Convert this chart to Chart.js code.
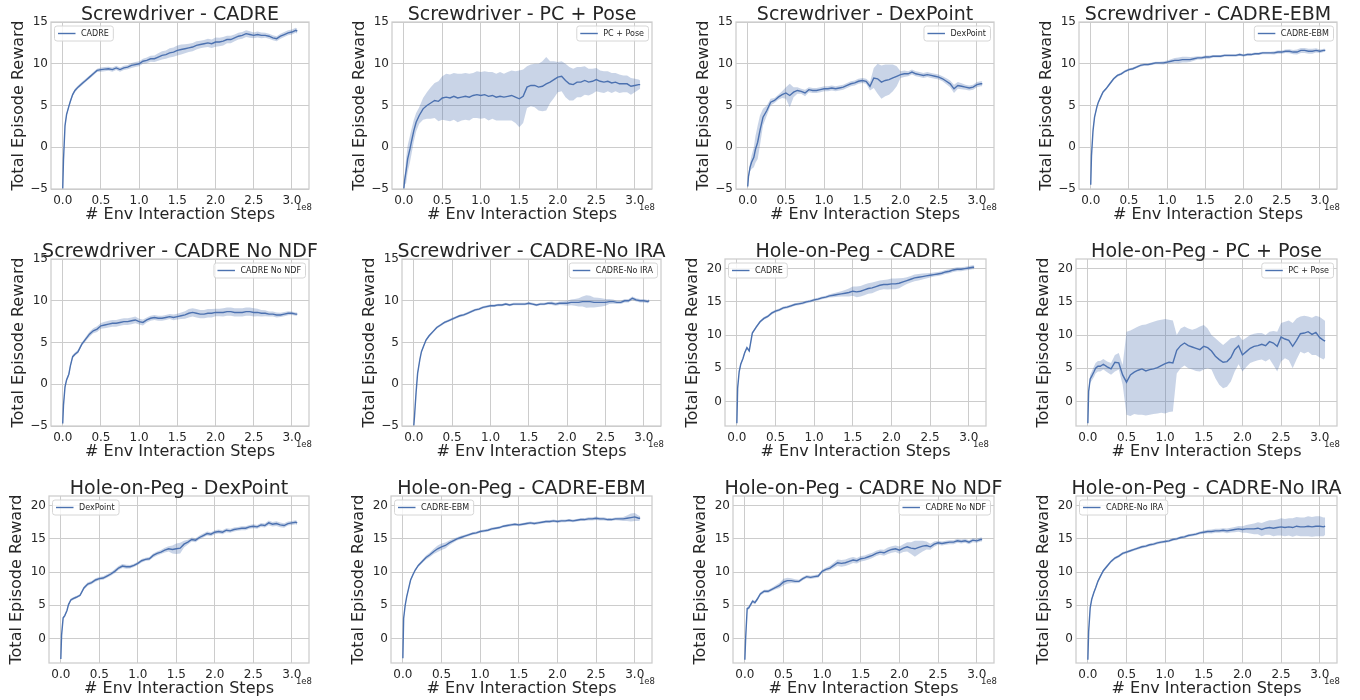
<!DOCTYPE html>
<html>
<head>
<meta charset="utf-8">
<script src="https://cdn.jsdelivr.net/npm/chart.js@4.4.1/dist/chart.umd.min.js"></script>
<style>
body { margin: 0; background: #fff; }
#grid { position: relative; width: 1360px; height: 700px; background: #fff; }
.panel { position: absolute; }
</style>
</head>
<body>
<div id="grid"></div>
<script>
// env interaction steps, in units of 1e8
var steps = [0, 0.01, 0.03, 0.05, 0.08, 0.1, 0.13, 0.16, 0.2, 0.25,
    0.3, 0.35, 0.4, 0.45, 0.5, 0.55, 0.6, 0.65, 0.7, 0.75,
    0.8, 0.85, 0.9, 0.95, 1.0, 1.05, 1.1, 1.15, 1.2, 1.25,
    1.3, 1.35, 1.4, 1.45, 1.5, 1.55, 1.6, 1.65, 1.7, 1.75,
    1.8, 1.85, 1.9, 1.95, 2.0, 2.05, 2.1, 2.15, 2.2, 2.25,
    2.3, 2.35, 2.4, 2.45, 2.5, 2.55, 2.6, 2.65, 2.7, 2.75,
    2.8, 2.85, 2.9, 2.95, 3.0, 3.05, 3.07];

var stepTicks = [0, 0.5, 1, 1.5, 2, 2.5, 3];
var screwTicks = [-5, 0, 5, 10, 15];
var pegTicks = [0, 5, 10, 15, 20];
var stepRange = [-0.1535, 3.2235];
var screwRange = [-5, 15];
var pegRange = [-3.7, 21.45];

// Screwdriver
var sdCadre = [-5.0, -1.5, 2.6, 3.9, 4.9, 5.5, 6.3, 6.8, 7.2, 7.6,
    8.0, 8.4, 8.8, 9.2, 9.3, 9.35, 9.4, 9.3, 9.5, 9.3,
    9.5, 9.6, 9.8, 9.9, 10.0, 10.3, 10.4, 10.6, 10.6, 10.8,
    11.0, 11.1, 11.3, 11.4, 11.6, 11.7, 11.8, 11.9, 12.0, 12.2,
    12.3, 12.4, 12.5, 12.4, 12.6, 12.6, 12.7, 12.9, 12.9, 13.1,
    13.3, 13.4, 13.6, 13.5, 13.4, 13.5, 13.4, 13.4, 13.3, 13.1,
    13.0, 13.3, 13.5, 13.7, 13.8, 14.0, 13.9];
var sdCadreSd = [0, 0.2, 0.2, 0.2, 0.2, 0.2, 0.2, 0.2, 0.2, 0.2,
    0.2, 0.2, 0.2, 0.2, 0.25, 0.25, 0.25, 0.25, 0.25, 0.25,
    0.25, 0.25, 0.3, 0.3, 0.3, 0.3, 0.35, 0.35, 0.4, 0.45,
    0.5, 0.5, 0.55, 0.55, 0.6, 0.6, 0.55, 0.5, 0.5, 0.5,
    0.45, 0.45, 0.5, 0.5, 0.55, 0.5, 0.5, 0.45, 0.45, 0.4,
    0.4, 0.4, 0.4, 0.4, 0.35, 0.35, 0.35, 0.3, 0.3, 0.3,
    0.3, 0.3, 0.3, 0.3, 0.3, 0.3, 0.3];

var sdPcPose = [-5.0, -4.0, -2.8, -1.4, -0.2, 0.7, 2.0, 3.0, 3.8, 4.6,
    5.0, 5.3, 5.6, 5.5, 5.9, 6.0, 5.9, 6.1, 5.9, 6.0,
    6.1, 6.0, 6.2, 6.3, 6.2, 6.3, 6.1, 6.2, 6.0, 6.1,
    6.0, 6.1, 6.2, 6.0, 5.8, 6.1, 7.2, 7.4, 7.4, 7.2,
    7.3, 7.6, 7.8, 8.1, 8.4, 8.5, 8.0, 7.6, 7.5, 7.8,
    7.8, 8.0, 7.8, 7.9, 8.1, 7.9, 7.8, 7.9, 7.7, 7.8,
    7.6, 7.6, 7.6, 7.3, 7.4, 7.5, 7.5];
var sdPcPoseSd = [0, 0.5, 1.5, 1.6, 1.6, 1.5, 1.3, 1.1, 1.0, 1.3,
    1.6, 1.9, 2.1, 2.4, 2.6, 2.8, 2.8, 2.8, 2.9, 2.8,
    2.8, 2.8, 2.7, 2.8, 2.8, 2.8, 2.9, 2.8, 2.8, 2.9,
    2.8, 2.9, 3.0, 3.1, 3.4, 3.2, 2.5, 2.5, 2.6, 2.8,
    3.0, 3.2, 2.5, 2.2, 1.8, 1.8, 2.0, 2.0, 1.9, 1.8,
    1.8, 1.7, 1.6, 1.5, 1.4, 1.3, 1.3, 1.2, 1.2, 1.1,
    1.1, 1.0, 1.0, 1.0, 0.8, 0.6, 0.5];

var sdDexPoint = [-4.7, -3.5, -2.4, -1.8, -1.2, -0.3, 0.6, 2.0, 3.6, 4.4,
    5.4, 5.6, 6.0, 6.3, 6.5, 6.2, 6.6, 6.8, 6.7, 6.5,
    6.9, 6.8, 6.8, 6.9, 7.0, 7.0, 7.1, 7.0, 7.1, 7.2,
    7.4, 7.6, 7.7, 7.9, 8.0, 7.9, 7.3, 8.3, 8.2, 7.8,
    8.0, 8.1, 8.3, 8.5, 8.7, 8.8, 8.8, 9.0, 8.8, 8.7,
    8.6, 8.7, 8.6, 8.5, 8.4, 8.2, 7.9, 7.6, 7.0, 7.4,
    7.3, 7.2, 7.1, 7.2, 7.5, 7.6, 7.6];
var sdDexPointSd = [0, 0.3, 0.5, 0.8, 1.2, 1.6, 2.0, 1.8, 1.0, 0.6,
    0.4, 0.3, 0.3, 0.4, 0.7, 1.4, 0.6, 0.4, 0.3, 0.4,
    0.3, 0.3, 0.3, 0.3, 0.3, 0.3, 0.3, 0.3, 0.3, 0.3,
    0.3, 0.3, 0.3, 0.3, 0.3, 0.3, 0.5, 1.2, 1.8, 2.0,
    1.9, 1.8, 1.6, 1.2, 0.4, 0.4, 0.3, 0.3, 0.3, 0.3,
    0.3, 0.3, 0.3, 0.3, 0.3, 0.3, 0.35, 0.4, 0.5, 0.4,
    0.35, 0.3, 0.3, 0.3, 0.3, 0.3, 0.3];

var sdEbm = [-4.5, -1.0, 2.0, 3.6, 4.8, 5.4, 6.0, 6.6, 7.0, 7.6,
    8.2, 8.6, 8.8, 9.1, 9.3, 9.4, 9.6, 9.8, 9.9, 9.9,
    10.0, 10.1, 10.1, 10.1, 10.2, 10.3, 10.4, 10.4, 10.5, 10.5,
    10.5, 10.6, 10.7, 10.7, 10.8, 10.8, 10.9, 10.9, 10.9, 11.0,
    11.0, 11.0, 11.0, 11.1, 11.0, 11.1, 11.1, 11.2, 11.2, 11.3,
    11.3, 11.3, 11.3, 11.4, 11.4, 11.5, 11.5, 11.4, 11.4, 11.6,
    11.6, 11.5, 11.5, 11.6, 11.5, 11.6, 11.6];
var sdEbmSd = [0, 0.2, 0.2, 0.2, 0.2, 0.15, 0.15, 0.15, 0.15, 0.15,
    0.15, 0.15, 0.15, 0.15, 0.15, 0.15, 0.15, 0.15, 0.15, 0.15,
    0.15, 0.15, 0.15, 0.2, 0.2, 0.25, 0.3, 0.35, 0.35, 0.35,
    0.3, 0.25, 0.2, 0.2, 0.2, 0.2, 0.15, 0.15, 0.15, 0.15,
    0.15, 0.15, 0.15, 0.15, 0.15, 0.15, 0.15, 0.15, 0.15, 0.15,
    0.15, 0.15, 0.2, 0.2, 0.2, 0.2, 0.25, 0.25, 0.3, 0.3,
    0.3, 0.3, 0.3, 0.25, 0.2, 0.2, 0.2];

var sdNoNdf = [-4.7, -2.5, -0.3, 0.5, 1.2, 2.2, 3.3, 3.6, 3.9, 4.8,
    5.4, 6.0, 6.4, 6.6, 7.0, 7.1, 7.2, 7.3, 7.3, 7.4,
    7.5, 7.5, 7.6, 7.7, 7.5, 7.4, 7.7, 7.9, 8.0, 7.9,
    7.9, 8.0, 8.1, 8.0, 8.1, 8.2, 8.3, 8.5, 8.6, 8.5,
    8.4, 8.4, 8.5, 8.5, 8.6, 8.6, 8.6, 8.7, 8.7, 8.6,
    8.6, 8.6, 8.7, 8.7, 8.6, 8.6, 8.5, 8.5, 8.4, 8.4,
    8.3, 8.3, 8.4, 8.5, 8.5, 8.4, 8.4];
var sdNoNdfSd = [0, 0.2, 0.2, 0.2, 0.2, 0.2, 0.2, 0.2, 0.2, 0.2,
    0.25, 0.3, 0.3, 0.35, 0.35, 0.4, 0.4, 0.4, 0.4, 0.4,
    0.4, 0.4, 0.4, 0.4, 0.35, 0.35, 0.3, 0.3, 0.3, 0.3,
    0.3, 0.3, 0.3, 0.35, 0.35, 0.4, 0.45, 0.5, 0.5, 0.5,
    0.5, 0.5, 0.5, 0.5, 0.45, 0.45, 0.5, 0.5, 0.5, 0.5,
    0.5, 0.5, 0.5, 0.5, 0.5, 0.45, 0.4, 0.35, 0.3, 0.3,
    0.3, 0.25, 0.25, 0.25, 0.2, 0.2, 0.2];

var sdNoIra = [-5.0, -3.8, -1.0, 1.3, 3.0, 3.9, 4.6, 5.3, 5.8, 6.3,
    6.8, 7.1, 7.4, 7.6, 7.8, 8.0, 8.2, 8.3, 8.5, 8.7,
    8.9, 9.0, 9.2, 9.3, 9.4, 9.4, 9.5, 9.5, 9.6, 9.5,
    9.6, 9.6, 9.6, 9.6, 9.7, 9.6, 9.5, 9.6, 9.6, 9.7,
    9.7, 9.6, 9.7, 9.7, 9.7, 9.8, 9.8, 9.8, 9.9, 9.9,
    9.9, 9.8, 9.8, 9.8, 9.8, 9.9, 9.9, 9.8, 9.8, 10.0,
    10.0, 10.3, 10.1, 10.0, 10.0, 9.9, 10.0];
var sdNoIraSd = [0, 0.2, 0.2, 0.2, 0.15, 0.15, 0.15, 0.15, 0.15, 0.15,
    0.15, 0.15, 0.15, 0.15, 0.15, 0.15, 0.15, 0.15, 0.15, 0.15,
    0.15, 0.15, 0.15, 0.15, 0.15, 0.15, 0.15, 0.15, 0.15, 0.15,
    0.15, 0.15, 0.15, 0.15, 0.15, 0.15, 0.15, 0.15, 0.15, 0.15,
    0.2, 0.2, 0.2, 0.25, 0.3, 0.35, 0.4, 0.5, 0.6, 0.75,
    0.7, 0.6, 0.55, 0.5, 0.4, 0.3, 0.25, 0.2, 0.2, 0.2,
    0.2, 0.2, 0.2, 0.2, 0.2, 0.2, 0.2];

// Hole-on-Peg
var hpCadre = [-3.3, 2.0, 4.5, 5.6, 6.5, 7.3, 8.1, 7.6, 10.3, 11.2,
    12.0, 12.5, 12.8, 13.3, 13.6, 13.8, 14.1, 14.2, 14.4, 14.6,
    14.7, 14.8, 15.0, 15.1, 15.3, 15.4, 15.6, 15.7, 15.9, 16.0,
    16.1, 16.2, 16.3, 16.4, 16.6, 16.5, 16.6, 16.8, 17.0, 17.1,
    17.3, 17.5, 17.6, 17.6, 17.7, 17.7, 17.8, 18.0, 18.2, 18.4,
    18.6, 18.7, 18.8, 18.9, 19.0, 19.1, 19.2, 19.3, 19.5, 19.6,
    19.8, 19.9, 19.9, 20.0, 20.1, 20.2, 20.2];
var hpCadreSd = [0, 0.2, 0.2, 0.2, 0.2, 0.2, 0.2, 0.2, 0.2, 0.2,
    0.2, 0.2, 0.2, 0.2, 0.2, 0.2, 0.2, 0.2, 0.2, 0.2,
    0.2, 0.2, 0.2, 0.2, 0.2, 0.2, 0.2, 0.2, 0.25, 0.3,
    0.35, 0.4, 0.5, 0.6, 0.7, 0.8, 0.8, 0.8, 0.8, 0.8,
    0.75, 0.7, 0.7, 0.75, 0.8, 0.8, 0.75, 0.6, 0.5, 0.5,
    0.5, 0.5, 0.45, 0.4, 0.35, 0.3, 0.3, 0.3, 0.3, 0.3,
    0.3, 0.3, 0.3, 0.3, 0.3, 0.3, 0.3];

var hpPcPose = [-3.3, 1.5, 3.4, 3.8, 4.5, 5.0, 5.3, 5.3, 5.6, 5.2,
    4.9, 5.9, 5.8, 4.0, 2.9, 4.0, 4.4, 4.7, 4.9, 4.6,
    4.8, 4.9, 5.1, 5.4, 5.7, 5.9, 5.8, 7.7, 8.4, 8.8,
    8.4, 8.2, 8.0, 7.8, 8.3, 8.1, 7.6, 6.8, 6.3, 5.9,
    6.0, 6.6, 7.8, 8.4, 7.0, 7.5, 8.0, 8.3, 8.4, 8.6,
    8.4, 9.0, 8.8, 8.3, 9.7, 9.4, 9.2, 8.3, 9.2, 10.2,
    10.3, 10.5, 10.1, 10.4, 9.6, 9.2, 9.1];
var hpPcPoseLo = [-3.3, 1.2, 2.8, 3.1, 3.7, 4.2, 4.5, 4.5, 4.8, 4.4,
    4.0, 4.5, 4.8, 2.5, -2.0, -2.2, -1.9, -2.0, -2.0, -2.1,
    -2.0, -1.9, -1.8, -1.7, -1.8, -1.6, -1.5, 4.2, 5.0, 5.4,
    5.0, 4.8, 4.6, 4.5, 4.8, 5.0, 4.8, 3.5, 2.5, 2.0,
    2.2, 3.0, 4.5, 5.6, 4.5, 5.2, 5.8, 6.0, 6.2, 6.3,
    6.0, 6.4, 5.5, 4.5, 6.0, 6.5, 6.2, 5.0, 6.3, 7.5,
    7.2, 7.5, 7.0, 7.0, 6.6, 6.3, 6.6];
var hpPcPoseHi = [-3.3, 1.8, 4.0, 4.5, 5.3, 5.8, 6.1, 6.1, 6.4, 6.0,
    5.8, 7.0, 7.3, 5.5, 10.5, 10.7, 11.0, 11.3, 11.5, 11.6,
    11.8, 12.0, 12.2, 12.3, 12.4, 12.3, 12.2, 10.0, 11.0, 11.3,
    11.0, 10.8, 11.0, 11.3, 11.5, 11.0, 10.0, 9.5, 9.0, 8.5,
    9.0, 9.5, 9.6, 10.0, 9.2, 9.6, 10.0, 10.2, 10.3, 10.3,
    10.0, 10.5, 10.6, 10.5, 11.8, 12.0, 12.2, 11.8, 12.5, 12.8,
    12.9, 12.8, 12.6, 12.9, 12.7, 12.3, 12.1];

var hpDexPoint = [-3.1, 0.5, 3.1, 3.4, 4.2, 5.1, 5.8, 6.0, 6.2, 6.5,
    7.6, 8.2, 8.4, 8.8, 9.0, 9.1, 9.4, 9.7, 10.1, 10.6,
    10.9, 10.8, 10.8, 11.0, 11.3, 11.7, 11.9, 12.0, 12.5, 12.8,
    13.0, 13.3, 13.5, 13.4, 13.5, 13.6, 14.2, 14.5, 14.9, 14.8,
    15.2, 15.5, 15.8, 15.7, 16.0, 16.1, 16.0, 16.3, 16.2, 16.4,
    16.5, 16.6, 16.6, 16.8, 16.9, 16.8, 17.1, 17.0, 17.4, 17.2,
    17.3, 17.1, 17.0, 17.3, 17.4, 17.5, 17.4];
var hpDexPointSd = [0, 0.2, 0.2, 0.2, 0.2, 0.2, 0.2, 0.2, 0.2, 0.2,
    0.25, 0.25, 0.25, 0.25, 0.25, 0.25, 0.25, 0.25, 0.3, 0.3,
    0.3, 0.3, 0.25, 0.25, 0.25, 0.25, 0.25, 0.25, 0.3, 0.3,
    0.3, 0.35, 0.4, 0.6, 0.8, 0.8, 0.5, 0.35, 0.3, 0.3,
    0.3, 0.3, 0.3, 0.3, 0.3, 0.3, 0.3, 0.3, 0.3, 0.3,
    0.3, 0.3, 0.3, 0.3, 0.3, 0.3, 0.3, 0.3, 0.35, 0.35,
    0.35, 0.35, 0.35, 0.3, 0.3, 0.3, 0.3];

var hpEbm = [-3.0, 3.0, 5.0, 6.3, 7.8, 8.8, 9.6, 10.3, 11.0, 11.6,
    12.2, 12.6, 13.1, 13.5, 13.8, 14.0, 14.4, 14.7, 15.0, 15.2,
    15.4, 15.6, 15.8, 15.9, 16.1, 16.2, 16.3, 16.5, 16.6, 16.7,
    16.9, 17.0, 17.1, 17.2, 17.1, 17.2, 17.3, 17.4, 17.3, 17.4,
    17.5, 17.6, 17.6, 17.7, 17.6, 17.7, 17.7, 17.8, 17.7, 17.8,
    17.9, 17.9, 18.0, 18.0, 18.1, 18.0, 18.0, 17.9, 17.9, 18.0,
    18.0, 18.0, 18.1, 18.2, 18.3, 18.1, 18.1];
var hpEbmSd = [0, 0.2, 0.2, 0.2, 0.2, 0.2, 0.2, 0.2, 0.2, 0.25,
    0.3, 0.35, 0.4, 0.5, 0.5, 0.45, 0.35, 0.3, 0.25, 0.25,
    0.2, 0.2, 0.2, 0.2, 0.2, 0.2, 0.2, 0.2, 0.2, 0.2,
    0.2, 0.2, 0.2, 0.2, 0.2, 0.2, 0.2, 0.2, 0.2, 0.2,
    0.2, 0.2, 0.2, 0.2, 0.2, 0.2, 0.2, 0.2, 0.2, 0.2,
    0.2, 0.2, 0.25, 0.25, 0.25, 0.25, 0.25, 0.2, 0.2, 0.2,
    0.25, 0.3, 0.4, 0.6, 0.6, 0.4, 0.3];

var hpNoNdf = [-3.2, 0.0, 4.5, 4.6, 5.2, 5.6, 5.4, 5.9, 6.7, 7.1,
    7.1, 7.4, 7.7, 8.0, 8.5, 8.7, 8.7, 8.6, 8.6, 9.0,
    9.3, 9.2, 9.3, 9.4, 10.1, 10.4, 10.6, 11.0, 11.4, 11.3,
    11.4, 11.6, 11.8, 11.7, 12.0, 12.1, 12.3, 12.5, 12.8, 13.0,
    12.9, 13.2, 13.4, 13.5, 13.3, 13.6, 13.8, 13.6, 13.5, 13.7,
    13.9, 14.0, 13.8, 14.2, 14.4, 14.3, 14.4, 14.5, 14.5, 14.7,
    14.6, 14.7, 14.5, 14.8, 14.7, 14.9, 14.9];
var hpNoNdfSd = [0, 0.2, 0.25, 0.25, 0.25, 0.25, 0.25, 0.25, 0.25, 0.25,
    0.25, 0.25, 0.3, 0.4, 0.5, 0.45, 0.35, 0.3, 0.25, 0.25,
    0.25, 0.25, 0.25, 0.25, 0.25, 0.3, 0.35, 0.4, 0.5, 0.5,
    0.5, 0.5, 0.45, 0.4, 0.4, 0.4, 0.4, 0.4, 0.4, 0.4,
    0.45, 0.5, 0.5, 0.5, 0.55, 0.6, 0.7, 0.9, 1.2, 1.0,
    0.8, 0.6, 0.45, 0.4, 0.3, 0.3, 0.3, 0.3, 0.3, 0.3,
    0.3, 0.3, 0.3, 0.3, 0.3, 0.3, 0.3];

var hpNoIra = [-3.2, 1.0, 4.6, 5.9, 7.0, 7.6, 8.6, 9.3, 10.2, 10.9,
    11.6, 12.1, 12.4, 12.8, 13.0, 13.2, 13.4, 13.6, 13.8, 13.9,
    14.1, 14.2, 14.4, 14.5, 14.6, 14.7, 14.9, 15.0, 15.2, 15.3,
    15.5, 15.6, 15.7, 15.9, 16.0, 16.1, 16.1, 16.2, 16.2, 16.3,
    16.2, 16.3, 16.4, 16.5, 16.4, 16.5, 16.5, 16.5, 16.6, 16.4,
    16.6, 16.7, 16.6, 16.7, 16.8, 16.7, 16.8, 16.7, 16.9, 16.8,
    16.8, 16.9, 16.8, 16.9, 16.9, 16.8, 16.9];
var hpNoIraSd = [0, 0.2, 0.2, 0.2, 0.2, 0.2, 0.2, 0.2, 0.2, 0.2,
    0.2, 0.2, 0.2, 0.2, 0.2, 0.2, 0.2, 0.2, 0.2, 0.2,
    0.2, 0.2, 0.2, 0.2, 0.2, 0.2, 0.2, 0.2, 0.2, 0.2,
    0.2, 0.2, 0.2, 0.2, 0.25, 0.25, 0.3, 0.3, 0.3, 0.3,
    0.35, 0.35, 0.4, 0.45, 0.5, 0.6, 0.7, 0.8, 0.9, 1.0,
    1.0, 1.1, 1.2, 1.2, 1.3, 1.3, 1.3, 1.4, 1.4, 1.4,
    1.4, 1.5, 1.5, 1.5, 1.5, 1.4, 1.3];

var titles = ['Screwdriver - CADRE', 'Screwdriver - PC + Pose', 'Screwdriver - DexPoint', 'Screwdriver - CADRE-EBM',
    'Screwdriver - CADRE No NDF', 'Screwdriver - CADRE-No IRA', 'Hole-on-Peg - CADRE', 'Hole-on-Peg - PC + Pose',
    'Hole-on-Peg - DexPoint', 'Hole-on-Peg - CADRE-EBM', 'Hole-on-Peg - CADRE No NDF', 'Hole-on-Peg - CADRE-No IRA'];
var legendLabels = ['CADRE', 'PC + Pose', 'DexPoint', 'CADRE-EBM', 'CADRE No NDF', 'CADRE-No IRA',
    'CADRE', 'PC + Pose', 'DexPoint', 'CADRE-EBM', 'CADRE No NDF', 'CADRE-No IRA'];
var means = [sdCadre, sdPcPose, sdDexPoint, sdEbm, sdNoNdf, sdNoIra,
    hpCadre, hpPcPose, hpDexPoint, hpEbm, hpNoNdf, hpNoIra];
var spreads = [sdCadreSd, sdPcPoseSd, sdDexPointSd, sdEbmSd, sdNoNdfSd, sdNoIraSd,
    hpCadreSd, null, hpDexPointSd, hpEbmSd, hpNoNdfSd, hpNoIraSd];

// layout: plot-area left/right inside each 340px cell, legend corner
var plotEdges = [[51, 309], [52, 312], [56, 314], [59, 317],
    [51, 309], [62, 321], [45, 306], [56, 317],
    [49, 309], [51, 312], [53, 314], [56, 317]];
var legendSide = ['left', 'right', 'right', 'right', 'right', 'right',
    'left', 'right', 'left', 'left', 'right', 'left'];
var rowTop = [0, 237, 474];

var FONT = "'DejaVu Sans', sans-serif";
var TEXT = '#262626';
var GRID = '#cccccc';
var BLUE = '#4C72B0';
var BAND = 'rgba(76, 114, 176, 0.3)';

for (var i = 0; i < 12; i++) {
    makePanel(i);
}

function toPoints(values) {
    var pts = [];
    for (var k = 0; k < steps.length; k++) {
        pts.push({x: steps[k], y: values[k]});
    }
    return pts;
}

function bandEdge(mean, spread, sign) {
    var out = [];
    for (var k = 0; k < mean.length; k++) {
        out.push(mean[k] + sign * spread[k]);
    }
    return out;
}

function minusSign(v) {
    return v < 0 ? '\u2212' + Math.abs(v) : '' + v;
}

function panelDecor(title, label, side) {
    return {
        id: 'panelDecor',
        afterDatasetsDraw: function(chart) {
            var ctx = chart.ctx;
            var a = chart.chartArea;
            ctx.save();
            ctx.strokeStyle = GRID;
            ctx.lineWidth = 1.25;
            ctx.strokeRect(a.left, a.top, a.right - a.left, a.bottom - a.top);

            // title
            ctx.fillStyle = TEXT;
            ctx.font = '19px ' + FONT;
            ctx.textAlign = 'center';
            ctx.textBaseline = 'alphabetic';
            ctx.fillText(title, (a.left + a.right) / 2, a.top - 2);

            // offset text for the step axis
            ctx.font = '8.5px ' + FONT;
            ctx.textAlign = 'right';
            ctx.textBaseline = 'middle';
            ctx.fillText('1e8', a.right + 3, a.bottom + 19);

            // legend
            ctx.font = '8px ' + FONT;
            var w = 26.5 + ctx.measureText(label).width + 4.5;
            var h = 15;
            var x = side == 'left' ? a.left + 3.5 : a.right - 3.5 - w;
            var y = a.top + 4;
            ctx.beginPath();
            ctx.roundRect(x, y, w, h, 2.5);
            ctx.fillStyle = 'rgba(255, 255, 255, 0.8)';
            ctx.fill();
            ctx.strokeStyle = '#d6d6d6';
            ctx.lineWidth = 1;
            ctx.stroke();
            ctx.beginPath();
            ctx.moveTo(x + 3.5, y + h / 2);
            ctx.lineTo(x + 21, y + h / 2);
            ctx.strokeStyle = BLUE;
            ctx.lineWidth = 1.4;
            ctx.stroke();
            ctx.fillStyle = TEXT;
            ctx.textAlign = 'left';
            ctx.fillText(label, x + 26.5, y + h / 2 + 0.5);
            ctx.restore();
        }
    };
}

function makePanel(i) {
    var col = i % 4;
    var row = Math.floor(i / 4);
    var edges = plotEdges[i];
    var isScrew = i < 6;

    var wrap = document.createElement('div');
    wrap.className = 'panel';
    wrap.style.left = (col * 340) + 'px';
    wrap.style.top = rowTop[row] + 'px';
    var canvas = document.createElement('canvas');
    canvas.width = 340;
    canvas.height = 230;
    wrap.append(canvas);
    document.getElementById('grid').append(wrap);

    var lo, hi;
    if (spreads[i]) {
        lo = bandEdge(means[i], spreads[i], -1);
        hi = bandEdge(means[i], spreads[i], 1);
    } else {
        lo = hpPcPoseLo;
        hi = hpPcPoseHi;
    }
    var yTicks = isScrew ? screwTicks : pegTicks;
    var yRange = isScrew ? screwRange : pegRange;

    new Chart(canvas.getContext('2d'), {
        type: 'line',
        data: {
            datasets: [
                {data: toPoints(hi), borderColor: 'rgba(0,0,0,0)', borderWidth: 0, pointRadius: 0, fill: '+1', backgroundColor: BAND},
                {data: toPoints(lo), borderColor: 'rgba(0,0,0,0)', borderWidth: 0, pointRadius: 0, fill: false},
                {data: toPoints(means[i]), borderColor: BLUE, borderWidth: 1.4, pointRadius: 0, fill: false}
            ]
        },
        options: {
            responsive: false,
            animation: false,
            events: [],
            layout: {padding: {left: edges[0] - 42, right: 340 - edges[1], top: 22, bottom: 6}},
            plugins: {legend: {display: false}, title: {display: false}, tooltip: {enabled: false}},
            scales: {
                x: {
                    type: 'linear',
                    min: stepRange[0],
                    max: stepRange[1],
                    afterBuildTicks: function(scale) {
                        scale.ticks = stepTicks.map(function(v) { return {value: v}; });
                    },
                    afterFit: function(scale) { scale.height = 35; },
                    grid: {color: GRID, lineWidth: 1, drawTicks: false},
                    border: {display: false},
                    ticks: {
                        color: TEXT, padding: 5, maxRotation: 0,
                        font: {family: FONT, size: 12},
                        callback: function(v) { return v.toFixed(1); }
                    },
                    title: {display: true, text: '# Env Interaction Steps', color: TEXT, padding: 0, font: {family: FONT, size: 16}}
                },
                y: {
                    type: 'linear',
                    min: yRange[0],
                    max: yRange[1],
                    afterBuildTicks: function(scale) {
                        scale.ticks = yTicks.map(function(v) { return {value: v}; });
                    },
                    afterFit: function(scale) { scale.width = 42; },
                    grid: {color: GRID, lineWidth: 1, drawTicks: false},
                    border: {display: false},
                    ticks: {
                        color: TEXT, padding: 3,
                        font: {family: FONT, size: 12},
                        callback: minusSign
                    },
                    title: {display: true, text: 'Total Episode Reward', color: TEXT, padding: 0, font: {family: FONT, size: 16}}
                }
            }
        },
        plugins: [panelDecor(titles[i], legendLabels[i], legendSide[i])]
    });
}
</script>
</body>
</html>
